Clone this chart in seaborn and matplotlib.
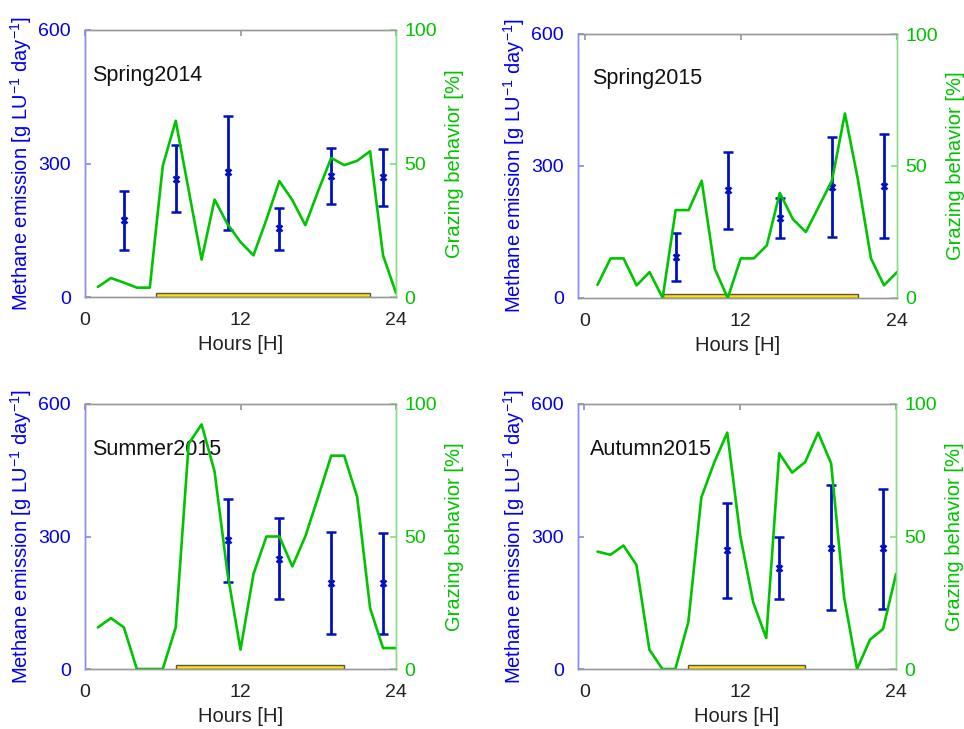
import numpy as np
import pandas as pd
import seaborn as sns
import matplotlib.pyplot as plt

# hourly grazing behaviour [%] for hours 1..24
hours = list(range(1, 25))
graze_spring14 = [3.8, 7.1, 5.4, 3.5, 3.5, 49.1, 66.0, 40.0, 14.0, 36.5, 27.3, 20.6,
                  15.6, 29.0, 43.4, 36.3, 26.9, 39.8, 52.1, 49.4, 51.0, 54.6, 15.6, 1.5]
graze_spring15 = [5.0, 15.0, 15.0, 4.8, 9.8, 0.0, 33.3, 33.3, 44.4, 11.1, 0.0, 15.0,
                  15.0, 19.9, 39.8, 29.9, 25.0, 34.7, 44.4, 69.9, 44.8, 15.0, 4.8, 9.8]
graze_summer15 = [15.7, 19.2, 15.7, 0.0, 0.0, 0.0, 15.7, 85.0, 92.3, 74.5, 36.0, 7.3,
                  35.8, 50.0, 50.0, 38.7, 50.0, 65.0, 80.5, 80.5, 65.0, 23.0, 7.9, 7.9]
graze_autumn15 = [44.3, 43.1, 46.6, 39.3, 7.3, 0.0, 0.0, 17.7, 64.7, 78.0, 89.2, 50.3,
                  25.1, 11.7, 81.4, 74.1, 78.1, 89.2, 77.6, 27.1, 0.0, 11.1, 15.1, 35.8]

# methane emission [g LU-1 day-1]: hour, mean, lower, upper
ch4_hours_spring14 = [3, 7, 11, 15, 19, 23]
ch4_mean_spring14 = [172, 265, 280, 154, 271, 270]
ch4_low_spring14 = [106, 190, 151, 106, 208, 205]
ch4_high_spring14 = [238, 342, 407, 201, 334, 333]

ch4_hours_spring15 = [7, 11, 15, 19, 23]
ch4_mean_spring15 = [93, 246, 182, 253, 255]
ch4_low_spring15 = [39, 157, 136, 138, 136]
ch4_high_spring15 = [147, 331, 228, 366, 372]

ch4_hours_summer15 = [11, 15, 19, 23]
ch4_mean_summer15 = [291, 250, 195, 195]
ch4_low_summer15 = [197, 159, 80, 80]
ch4_high_summer15 = [385, 341, 310, 309]

ch4_hours_autumn15 = [11, 15, 19, 23]
ch4_mean_autumn15 = [269, 228, 275, 274]
ch4_low_autumn15 = [161, 159, 134, 136]
ch4_high_autumn15 = [376, 300, 416, 408]

# grazing period (yellow bar): start, end hour
period_start = [5.5, 6, 7, 8]
period_end = [22, 21, 20, 17]

titles = ["Spring2014", "Spring2015", "Summer2015", "Autumn2015"]

sns.set_theme(style="white")
plt.rcParams['font.family'] = ['Liberation Sans', 'DejaVu Sans']
plt.rcParams['font.size'] = 14
plt.rcParams['mathtext.fontset'] = 'custom'
plt.rcParams['mathtext.rm'] = 'Liberation Sans'

BLUE = '#0000ee'
BAR_BLUE = '#0010c0'
GREEN = '#00c400'

seasons = [
    (graze_spring14, ch4_hours_spring14, ch4_mean_spring14, ch4_low_spring14, ch4_high_spring14),
    (graze_spring15, ch4_hours_spring15, ch4_mean_spring15, ch4_low_spring15, ch4_high_spring15),
    (graze_summer15, ch4_hours_summer15, ch4_mean_summer15, ch4_low_summer15, ch4_high_summer15),
    (graze_autumn15, ch4_hours_autumn15, ch4_mean_autumn15, ch4_low_autumn15, ch4_high_autumn15),
]

# axes boxes in pixels: left, right, top, bottom
W, H = 964, 729
boxes = [(85, 396, 30, 297), (578, 897, 34, 298), (85, 396, 404, 669), (578, 896, 404, 669)]
xmins = [0, -0.5, 0, -0.5]
title_x = [0.023, 0.044, 0.023, 0.038]

ylab = 'Methane emission [g LU$\\mathregular{^{-1}}$ day$\\mathregular{^{-1}}$]'

fig = plt.figure(figsize=(9.64, 7.29), dpi=100)

for i, (graze, eh, em, elo, ehi) in enumerate(seasons):
    l, r, t, b = boxes[i]
    ax = fig.add_axes([l / W, 1 - b / H, (r - l) / W, (b - t) / H])
    ax2 = ax.twinx()

    # grazing period bar
    ax.bar(period_start[i], 10, width=period_end[i] - period_start[i], align='edge',
           color='#ffe000', edgecolor='#555555', linewidth=1.0, zorder=2)

    em = np.array(em)
    yerr = [em - np.array(elo), np.array(ehi) - em]
    ax.errorbar(eh, em, yerr=yerr, fmt='x', color=BAR_BLUE, ecolor=BAR_BLUE,
                elinewidth=2.0, capsize=3.5, capthick=2.0, markersize=5,
                markeredgewidth=1.8, zorder=3)

    df = pd.DataFrame({'hour': hours, 'graze': graze})
    sns.lineplot(data=df, x='hour', y='graze', ax=ax2, color=GREEN, linewidth=1.9)

    ax.set_xlim(xmins[i], 24)
    ax.set_ylim(0, 600)
    ax2.set_ylim(0, 100)
    ax.set_xticks([0, 12, 24])
    ax.set_yticks([0, 300, 600])
    ax2.set_yticks([0, 50, 100])

    ax.set_xlabel('Hours [H]', fontsize=14.5, color='#222222', labelpad=4)
    ax.set_ylabel(ylab, fontsize=14.5, color=BLUE, labelpad=3)
    ax2.set_ylabel('Grazing behavior [%]', fontsize=14.5, color=GREEN, labelpad=6)

    ax.tick_params(axis='x', direction='in', length=4, top=True, colors='#999999',
                   labelcolor='#222222', labelsize=14, pad=11)
    ax.tick_params(axis='y', direction='in', length=4, colors='#8888ff',
                   labelcolor=BLUE, labelsize=14, pad=10)
    ax2.tick_params(axis='y', direction='in', length=4, colors='#88dd88',
                    labelcolor=GREEN, labelsize=14, pad=6)

    for a in (ax, ax2):
        a.spines['top'].set_color('#999999')
        a.spines['bottom'].set_color('#999999')
        a.spines['left'].set_color('#8888ff')
        a.spines['right'].set_color('#88dd88')
        for s in a.spines.values():
            s.set_linewidth(1.0)

    ax.text(title_x[i], 0.83, titles[i], transform=ax.transAxes, fontsize=15.5,
            color='#111111', va='center', ha='left')

fig.savefig('out.png', dpi=100)
